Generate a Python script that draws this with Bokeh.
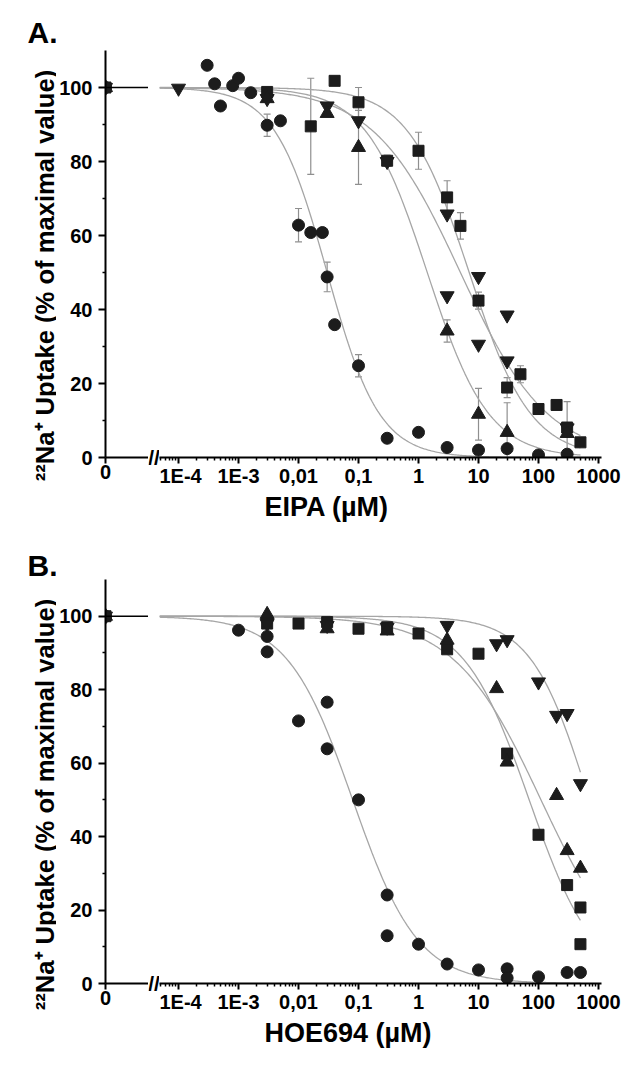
import json
import numpy as np
from bokeh.plotting import figure
from bokeh.layouts import row, column
from bokeh.models import (ColumnDataSource, FixedTicker, Range1d, Title, Whisker,
                          TeeHead, Span, Label, CustomJSTickFormatter)
from bokeh.embed import file_html
from bokeh.resources import INLINE

# ---------------- data: panel A (EIPA) ----------------
a_circ_x = [0, 3e-4, 4e-4, 5e-4, 8e-4, 1e-3, 1.6e-3, 3e-3, 5e-3, 0.01, 0.016, 0.025, 0.03, 0.04, 0.1, 0.3, 1, 3, 10, 30, 100, 300]
a_circ_y = [100, 106, 101, 95, 100.5, 102.5, 98.6, 89.8, 91, 62.8, 60.8, 60.8, 48.8, 35.9, 24.8, 5.2, 6.8, 2.7, 2.0, 2.4, 0.7, 0.9]
a_circ_e = [0, 0, 0, 0, 0, 0, 0, 3, 0, 4.5, 0, 0, 4, 0, 3, 0, 0, 0, 0, 0, 0, 0]

a_sq_x = [0, 3e-3, 0.016, 0.04, 0.1, 0.3, 1, 3, 5, 10, 30, 50, 100, 200, 300, 500]
a_sq_y = [100, 98.8, 89.5, 101.8, 96, 80.2, 82.9, 70.3, 62.6, 42.4, 18.9, 22.5, 13.1, 14.2, 8.1, 4.1]
a_sq_e = [0, 0, 13, 0, 4, 1.5, 5, 4.5, 3.6, 2.3, 2.7, 2.3, 0, 0, 7, 0]

a_dn_x = [0, 1e-4, 3e-3, 0.03, 0.1, 0.3, 3, 3, 10, 10, 30, 30, 300]
a_dn_y = [100, 99.8, 97, 95, 91, 80, 65.8, 43.7, 48.9, 30.6, 38.5, 26.1, 8]
a_dn_e = [0, 0, 0, 0, 0, 0, 0, 0, 0, 0, 0, 0, 0]

a_up_x = [0, 3e-3, 0.03, 0.1, 3, 10, 30, 300]
a_up_y = [100, 97, 93, 83.8, 34.2, 11.7, 6.8, 6.5]
a_up_e = [0, 0, 0, 10, 3, 7, 8, 0]

# fitted curves (IC50 in uM, Hill slope)
a_fit_ic50 = [0.03, 7.0, 5.0, 1.4]     # circle, square, down-triangle, up-triangle
a_fit_hill = [1.0, 0.85, 0.6, 0.85]

# ---------------- data: panel B (HOE694) ----------------
b_circ_x = [0, 1e-3, 3e-3, 3e-3, 0.01, 0.03, 0.03, 0.1, 0.3, 0.3, 1, 3, 10, 30, 30, 100, 300, 500]
b_circ_y = [100, 96.2, 94.5, 90.3, 71.5, 76.6, 63.9, 50, 24.1, 13, 10.7, 5.3, 3.7, 4, 1.5, 1.8, 3, 3]

b_sq_x = [0, 3e-3, 0.01, 0.03, 0.1, 0.3, 1, 3, 10, 30, 100, 300, 500, 500]
b_sq_y = [100, 98, 98, 98.4, 96.6, 97, 95.3, 91, 89.8, 62.6, 40.5, 26.8, 20.7, 10.7]

b_dn_x = [0, 3e-3, 0.03, 0.3, 3, 20, 30, 100, 200, 300, 500]
b_dn_y = [100, 98, 97.5, 97, 97.5, 92.5, 93.6, 82.1, 73, 73.5, 54.4]

b_up_x = [0, 3e-3, 0.03, 0.3, 3, 20, 30, 200, 300, 500]
b_up_y = [100, 100.5, 96.6, 96, 93.5, 80.3, 60.3, 51.2, 36.2, 31.4]

b_fit_ic50 = [0.08, 70.0, 700.0, 110.0]
b_fit_hill = [0.8, 0.8, 0.9, 0.6]

# ---------------- axis text ----------------
x_ticks = [1e-4, 1e-3, 0.01, 0.1, 1, 10, 100, 1000]
x_tick_labels = ["1E-4", "1E-3", "0,01", "0,1", "1", "10", "100", "1000"]
y_ticks = [0, 20, 40, 60, 80, 100]
y_minor = [10, 30, 50, 70, 90]
y_label = "²²Na⁺ Uptake (% of maximal value)"

FONT = "Liberation Sans"
INK = "#1c1c1c"
FITC = "#a6a6a6"
ERRC = "#8f8f8f"

XR_START = 10 ** -4.317
XR_END = 10 ** 3.05
FIT_END = 500.0
Y_TOP = 110.0
STRIP_W = 56


def hill(x, ic50, n):
    x = np.asarray(x, dtype=float)
    return 100.0 / (1.0 + (x / ic50) ** n)


def style_axis(ax, tick_out):
    ax.axis_line_width = 2
    ax.axis_line_color = "black"
    ax.major_tick_line_width = 2
    ax.minor_tick_line_width = 1.5
    ax.major_tick_in = 0
    ax.minor_tick_in = 0
    ax.major_tick_out = tick_out
    ax.minor_tick_out = 3
    ax.major_label_text_font = FONT
    ax.major_label_text_font_style = "bold"
    ax.major_label_text_font_size = "20px"
    ax.major_label_text_color = "black"


def base_fig(**kw):
    p = figure(output_backend="svg", toolbar_location=None, title=None, **kw)
    p.outline_line_color = None
    p.xgrid.visible = False
    p.ygrid.visible = False
    p.background_fill_color = "white"
    p.border_fill_color = "white"
    return p


def make_panel(tag, xlabel, series, ic50s, hills, frame_h, top_b, bot_b, tag_base, ylab_mid):
    total_h = top_b + frame_h + bot_b
    # left strip holding the panel tag and the rotated y-axis title
    strip = base_fig(frame_width=STRIP_W, frame_height=total_h, x_range=Range1d(0, STRIP_W),
                     y_range=Range1d(0, total_h), x_axis_location=None, y_axis_location=None,
                     min_border=0)
    try:
        strip.frame_align = False
    except Exception:
        pass
    strip.add_layout(Label(x=44, y=total_h - ylab_mid, text=y_label, angle=90, angle_units="deg",
                           text_align="center", text_baseline="alphabetic", text_font=FONT,
                           text_font_size="25.6px", text_font_style="bold", text_color="black"))
    strip.add_layout(Label(x=27, y=total_h - tag_base, text=tag, text_align="left",
                           text_baseline="alphabetic", text_font=FONT, text_font_size="30px",
                           text_font_style="bold", text_color="black"))

    y_rng = Range1d(0, Y_TOP)
    pl = base_fig(frame_width=43, frame_height=frame_h, x_range=Range1d(0, 1), y_range=y_rng,
                  min_border_left=104 - STRIP_W, min_border_right=0, min_border_top=top_b,
                  min_border_bottom=bot_b)
    # narrow strip that only carries the axis-break mark; its frame reaches below y=0
    ext = 12
    mid = base_fig(frame_width=11, frame_height=frame_h + ext, x_range=Range1d(0, 1),
                   y_range=Range1d(-ext * Y_TOP / frame_h, Y_TOP),
                   x_axis_location=None, y_axis_location=None,
                   min_border_left=0, min_border_right=0, min_border_top=top_b,
                   min_border_bottom=bot_b - ext)
    pr = base_fig(frame_width=442, frame_height=frame_h, x_range=Range1d(XR_START, XR_END),
                  y_range=y_rng, x_axis_type="log", y_axis_location=None,
                  min_border_left=0, min_border_right=21, min_border_top=top_b,
                  min_border_bottom=bot_b)

    # axes
    pl.xaxis.ticker = FixedTicker(ticks=[0], minor_ticks=[])
    style_axis(pl.xaxis[0], 6)
    pl.yaxis.ticker = FixedTicker(ticks=y_ticks, minor_ticks=y_minor)
    style_axis(pl.yaxis[0], 7)
    pl.yaxis.major_label_standoff = 6
    minor = [k * 10.0 ** d for d in range(-5, 4) for k in range(2, 10)]
    pr.xaxis.ticker = FixedTicker(ticks=x_ticks, minor_ticks=minor)
    lbl_map = {str(int(round(np.log10(t)))): s for t, s in zip(x_ticks, x_tick_labels)}
    pr.xaxis.formatter = CustomJSTickFormatter(
        code="const m = %s; const e = Math.round(Math.log10(tick)); return (e in m) ? m[e] : '';"
        % json.dumps(lbl_map))
    style_axis(pr.xaxis[0], 6)
    for p in (pl, pr):
        p.xaxis.major_label_standoff = 1

    # x-axis title
    pl.add_layout(Title(text=" ", text_font=FONT, text_font_size="27px",
                        text_font_style="bold", standoff=0), "below")
    pr.add_layout(Title(text=xlabel, align="left", offset=105, text_font=FONT,
                        text_font_size="27px", text_font_style="bold", text_color="black",
                        standoff=0), "below")

    # axis break mark
    mid.add_layout(Label(x=0.5, y=0, text="//", text_align="center", text_baseline="middle",
                         text_font=FONT, text_font_size="21px", text_font_style="bold",
                         text_color="black"))

    # fit curves
    pl.add_layout(Span(location=float(hill(0.0, ic50s[0], hills[0])), dimension="width",
                       line_color="black", line_width=1.4))
    xs = np.logspace(np.log10(XR_START), np.log10(FIT_END), 300)
    for ic, h in zip(ic50s, hills):
        pr.line(xs, hill(xs, ic, h), line_color=FITC, line_width=1.3)

    # data
    for xv, yv, ev, marker, size in series:
        xv = np.asarray(xv, float)
        yv = np.asarray(yv, float)
        ev = np.asarray(ev, float)
        zero = xv == 0
        pos = xv > 0
        pl.scatter(xv[zero], yv[zero], marker=marker, size=size, fill_color=INK, line_color=INK)
        has_e = pos & (ev > 0)
        if has_e.any():
            src = ColumnDataSource(dict(x=xv[has_e], lo=yv[has_e] - ev[has_e], hi=yv[has_e] + ev[has_e]))
            pr.add_layout(Whisker(source=src, base="x", lower="lo", upper="hi", dimension="height",
                                  line_color=ERRC, line_width=1.2,
                                  lower_head=TeeHead(size=7, line_color=ERRC, line_width=1.2),
                                  upper_head=TeeHead(size=7, line_color=ERRC, line_width=1.2)))
        pr.scatter(xv[pos], yv[pos], marker=marker, size=size, fill_color=INK, line_color=INK)
    return row(strip, pl, mid, pr)


series_a = [
    (a_sq_x, a_sq_y, a_sq_e, "square", 11),
    (a_dn_x, a_dn_y, a_dn_e, "inverted_triangle", 14),
    (a_up_x, a_up_y, a_up_e, "triangle", 14),
    (a_circ_x, a_circ_y, a_circ_e, "circle", 12),
]
zeros = lambda v: [0] * len(v)
series_b = [
    (b_sq_x, b_sq_y, zeros(b_sq_x), "square", 11),
    (b_dn_x, b_dn_y, zeros(b_dn_x), "inverted_triangle", 14),
    (b_up_x, b_up_y, zeros(b_up_x), "triangle", 14),
    (b_circ_x, b_circ_y, zeros(b_circ_x), "circle", 12),
]

# tag baseline and y-title centre are measured from the top of each panel
panel_a = make_panel("A.", "EIPA (µM)", series_a, a_fit_ic50, a_fit_hill, 407, 50, 66, 32, 275)
panel_b = make_panel("B.", "HOE694 (µM)", series_b, b_fit_ic50, b_fit_hill, 404, 56, 66, 41.5, 281)

layout = column(panel_a, panel_b)
open("out.html", "w").write(file_html(layout, INLINE))
